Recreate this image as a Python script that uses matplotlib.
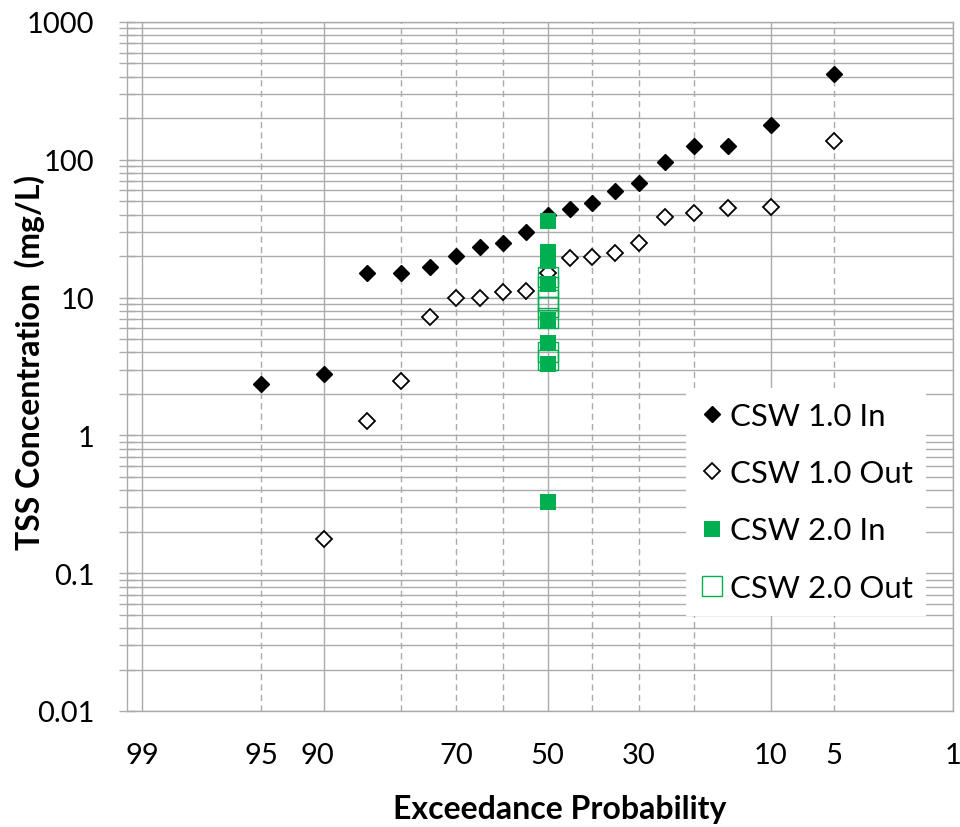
from statistics import NormalDist

import matplotlib.pyplot as plt
import numpy as np
from matplotlib.ticker import FixedLocator, NullFormatter, FuncFormatter
from matplotlib.transforms import ScaledTranslation

plt.rcParams['font.family'] = ['Lato', 'DejaVu Sans']

# exceedance probability (%) and TSS (mg/L) for each series
p_in1 = [95, 90, 85, 80, 75, 70, 65, 60, 55, 50, 45, 40, 35, 30, 25, 20, 15, 10, 5]
tss_in1 = [2.35, 2.77, 15.0, 15.0, 16.6, 20.1, 23.3, 25.0, 29.8, 39.5,
           43.7, 48.6, 59.7, 68.2, 96.9, 125, 125, 179, 417]

p_out1 = [90, 85, 80, 75, 70, 65, 60, 55, 50, 45, 40, 35, 30, 25, 20, 15, 10, 5]
tss_out1 = [0.178, 1.27, 2.47, 7.27, 9.94, 10.0, 11.0, 11.1, 15.2,
            19.4, 19.6, 21.1, 24.8, 38.4, 41.3, 44.7, 45.4, 138]

p_in2 = [50, 50, 50, 50, 50, 50, 50, 50]
tss_in2 = [36.1, 21.3, 18.5, 12.6, 6.9, 4.7, 3.3, 0.33]

p_out2 = [50, 50, 50, 50, 50, 50, 50]
tss_out2 = [14.2, 12.0, 9.6, 8.6, 7.1, 4.06, 3.5]

tick_probs = [99, 95, 90, 70, 50, 30, 10, 5, 1]
solid_probs = [99, 90, 50, 10, 1]
dashed_probs = [95, 80, 70, 60, 40, 30, 20, 5]

GRID = '#ababab'
GREEN = '#00b050'
nd = NormalDist()


def zscore(p):
    # probability-paper position: high exceedance on the left
    return np.array([nd.inv_cdf(1 - v / 100.0) for v in np.atleast_1d(p)])


fig = plt.figure(figsize=(9.6, 8.28), dpi=100)
ax = fig.add_axes([127 / 960, 1 - 712 / 828, (953 - 127) / 960, (712 - 23) / 828])

ax.set_yscale('log')
ax.set_ylim(0.01, 1000)
ax.set_xlim(-2.414, zscore(1)[0])

# grid
ax.grid(True, which='both', axis='y', color=GRID, lw=1.0, zorder=0)
for p in solid_probs:
    ax.axvline(zscore(p)[0], color=GRID, lw=1.0, zorder=0)
for p in dashed_probs:
    ax.axvline(zscore(p)[0], color=GRID, lw=1.0, ls=(0, (4.5, 3)), zorder=0)

# series
ax.plot(zscore(p_in1), tss_in1, ls='none', marker='D', ms=8.6, mfc='black',
        mec='black', mew=1, label='CSW 1.0 In', zorder=3)
ax.plot(zscore(p_out1), tss_out1, ls='none', marker='D', ms=8.2, mfc='white',
        mec='black', mew=1.3, label='CSW 1.0 Out', zorder=3)
ax.plot(zscore(p_in2), tss_in2, ls='none', marker='s', ms=12.2, mfc=GREEN,
        mec=GREEN, mew=0, label='CSW 2.0 In', zorder=4)
ax.plot(zscore(p_out2), tss_out2, ls='none', marker='s', ms=15, mfc='none',
        mec=GREEN, mew=1.0, label='CSW 2.0 Out', zorder=5)

# y axis ticks
ax.yaxis.set_major_locator(FixedLocator([0.01, 0.1, 1, 10, 100, 1000]))
ax.yaxis.set_major_formatter(FuncFormatter(lambda v, pos: f'{v:g}'))
ax.yaxis.set_minor_formatter(NullFormatter())
ax.tick_params(axis='y', which='both', direction='inout', length=11, width=1,
               color=GRID, labelsize=21, pad=18)

# x axis ticks: labels on some lines, tick marks on the solid ones
ax.set_xticks(zscore(tick_probs))
ax.set_xticklabels([str(p) for p in tick_probs])
ax.xaxis.set_minor_locator(FixedLocator(zscore(solid_probs)))
ax.tick_params(axis='x', which='major', length=0, labelsize=21, pad=22)
ax.tick_params(axis='x', which='minor', direction='inout', length=11, width=1,
               color=GRID)
for lab in ax.get_xticklabels():
    if lab.get_text() == '90':
        lab.set_transform(lab.get_transform() +
                          ScaledTranslation(-7 / 100, 0, fig.dpi_scale_trans))

for side in ['left', 'bottom', 'top', 'right']:
    ax.spines[side].set_color(GRID)
    ax.spines[side].set_linewidth(1.0)

fig.text(30 / 960, 1 - 363 / 828, 'TSS Concentration  (mg/L)', rotation=90,
         ha='center', va='center', fontsize=23, fontweight='bold')
fig.text(560 / 960, 1 - 810 / 828, 'Exceedance Probability',
         ha='center', va='center', fontsize=23, fontweight='bold')

leg = ax.legend(loc='upper left', bbox_to_anchor=(686 / 960, 1 - 389 / 828),
                bbox_transform=fig.transFigure, fontsize=22.4, frameon=True,
                fancybox=False, framealpha=1, edgecolor='none',
                facecolor='white', handlelength=0.8, handletextpad=0.15,
                labelspacing=0.94, borderpad=0.45, borderaxespad=0)

fig.savefig('out.png', dpi=100)
